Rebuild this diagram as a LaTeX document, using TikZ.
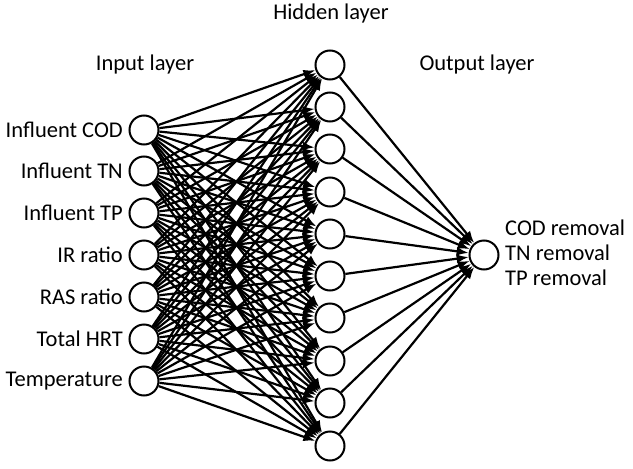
\documentclass[tikz,border=0pt]{standalone}
\usepackage{fontspec}
\setmainfont{Carlito}
\usetikzlibrary{arrows.meta}
\begin{document}
\begin{tikzpicture}[x=1pt,y=-1pt,
  neuron/.style={circle,draw,line width=2pt,minimum size=29pt,inner sep=0pt},
  lbl/.style={font=\fontsize{22.5}{26}\selectfont,inner sep=0pt},
  conn/.style={line width=2.2pt,-{Latex[length=12pt,width=9pt]}}]
\useasboundingbox (0,0) rectangle (633,469);
% input
\foreach \i/\y/\t in {1/130/Influent COD,2/171/Influent TN,3/213/Influent TP,4/255/IR ratio,5/297/RAS ratio,6/339/Total HRT,7/381/Temperature}{
  \node[neuron] (i\i) at (144,\y) {};
  \node[lbl,anchor=east] (t\i) at (123,\y) {\t};
}
% hidden
\foreach \j/\y in {1/65,2/107,3/149,4/192,5/234,6/276,7/318,8/361,9/403,10/446}{
  \node[neuron] (h\j) at (330,\y) {};
}
% output
\node[neuron] (o) at (484,255) {};
\node[lbl,anchor=west,align=left] (ot) at (505,253) {COD removal\\[-1pt]TN removal\\[-1pt]TP removal};
% titles
\node[lbl] (th) at (331,13) {Hidden layer};
\node[lbl] (ti) at (145,64) {Input layer};
\node[lbl] (to) at (477,64) {Output layer};
% connections
\foreach \i in {1,...,7}{
  \foreach \j in {1,...,10}{
    \draw[conn] (i\i) -- (h\j);
  }
}
\foreach \j in {1,...,10}{
  \draw[conn] (h\j) -- (o);
}
\end{tikzpicture}
\end{document}
